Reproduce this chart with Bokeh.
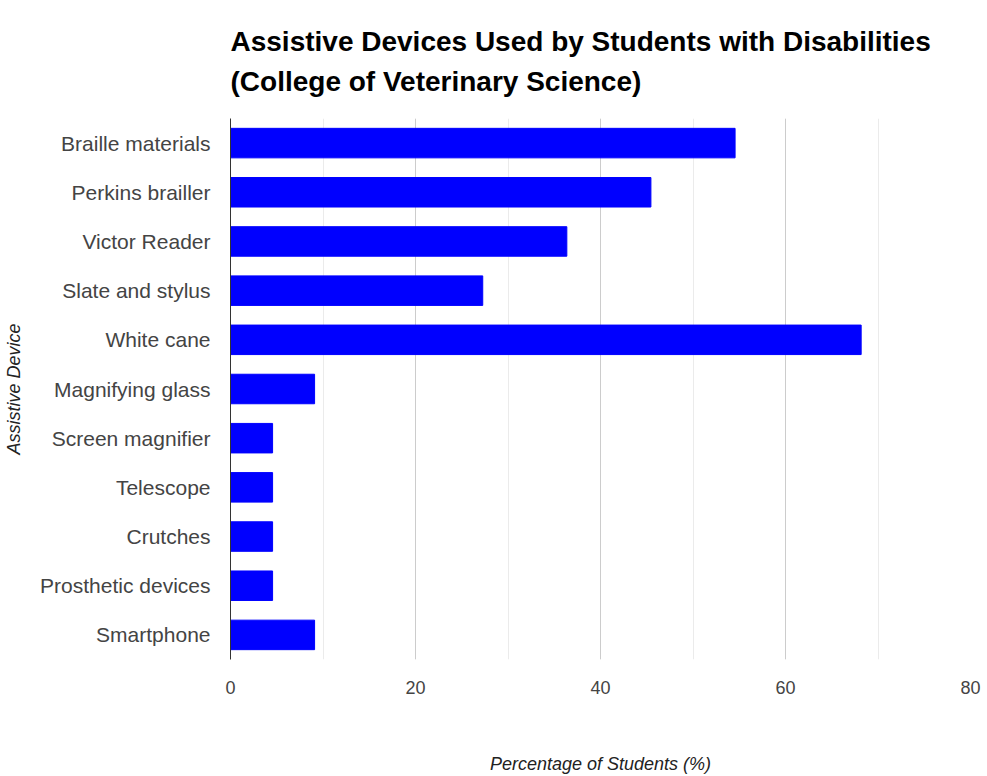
from bokeh.plotting import figure
from bokeh.models import Range1d, FactorRange, SingleIntervalTicker, ColumnDataSource
from bokeh.embed import file_html
from bokeh.resources import INLINE

devices = ["Braille materials", "Perkins brailler", "Victor Reader", "Slate and stylus",
           "White cane", "Magnifying glass", "Screen magnifier", "Telescope",
           "Crutches", "Prosthetic devices", "Smartphone"]
percentages = [54.55, 45.45, 36.36, 27.27, 68.18, 9.09, 4.55, 4.55, 4.55, 4.55, 9.09]
x_ticks = [0, 20, 40, 60, 80]

title_text = "Assistive Devices Used by Students with Disabilities\n(College of Veterinary Science)"
font = "Liberation Sans"

source = ColumnDataSource(dict(device=devices, pct=percentages))

p = figure(width=987, height=776, output_backend="svg", toolbar_location=None,
           y_range=FactorRange(factors=list(reversed(devices))),
           x_range=Range1d(0, 80),
           min_border_left=230, min_border_right=17, min_border_top=118, min_border_bottom=111)

p.hbar(y="device", right="pct", height=0.6, source=source,
       fill_color="#0000ff", line_color="#0000ff")

p.title.text = title_text
p.title.text_font = font
p.title.text_font_size = "28px"
p.title.text_font_style = "bold"
p.title.text_color = "#000000"
p.title.align = "left"
p.title.vertical_align = "top"
p.title.text_line_height = 1.3
p.title.standoff = 40

p.outline_line_color = None
p.background_fill_color = "white"
p.border_fill_color = "white"

ticker = SingleIntervalTicker(interval=20, num_minor_ticks=2)
p.xaxis.ticker = ticker
p.xgrid.ticker = ticker
p.xgrid.grid_line_color = "#cccccc"
p.xgrid.minor_grid_line_color = "#ebebeb"
p.ygrid.grid_line_color = None

xa = p.xaxis[0]
xa.axis_line_color = None
xa.major_tick_line_color = None
xa.minor_tick_line_color = None
xa.major_label_text_font = font
xa.major_label_text_font_size = "18px"
xa.major_label_text_color = "#444444"
xa.major_label_standoff = 15
xa.axis_label = "Percentage of Students (%)"
xa.axis_label_text_font = font
xa.axis_label_text_font_size = "18px"
xa.axis_label_text_font_style = "italic"
xa.axis_label_text_color = "#222222"
xa.axis_label_standoff = 57

ya = p.yaxis[0]
ya.axis_line_color = "#333333"
ya.axis_line_width = 1
ya.major_tick_line_color = None
ya.minor_tick_line_color = None
ya.major_label_text_font = font
ya.major_label_text_font_size = "21px"
ya.major_label_text_color = "#444444"
ya.major_label_standoff = 14
ya.axis_label = "Assistive Device"
ya.axis_label_text_font = font
ya.axis_label_text_font_size = "18px"
ya.axis_label_text_font_style = "italic"
ya.axis_label_text_color = "#222222"
ya.axis_label_standoff = 13

open("out.html", "w").write(file_html(p, INLINE))
